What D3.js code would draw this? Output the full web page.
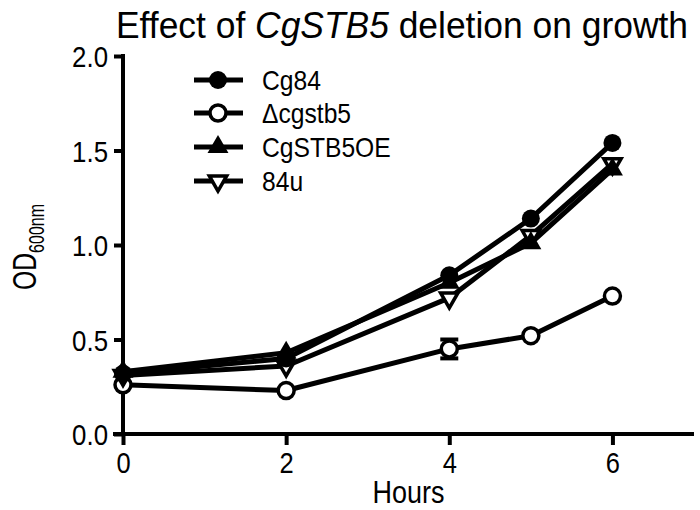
<!DOCTYPE html>
<html><head><meta charset="utf-8">
<script src="https://cdn.jsdelivr.net/npm/d3@7"></script>
<style>body{margin:0;background:#fff}svg{display:block}text{font-family:"Liberation Sans",Arial,sans-serif;fill:#000}</style>
</head><body><svg id="c" width="700" height="510"></svg>
<script>
const hours = [0, 2, 4, 5, 6];
const cg84 = [0.32, 0.40, 0.84, 1.14, 1.54];
const dcgstb5 = [0.26, 0.23, 0.45, 0.52, 0.73];
const dcgstb5Err = [0, 0, 0.05, 0, 0];
const cgstb5oe = [0.33, 0.43, 0.80, 1.01, 1.40];
const u84 = [0.31, 0.36, 0.72, 1.05, 1.43];
const seriesNames = ["Cg84", "\u0394cgstb5", "CgSTB5OE", "84u"];
const xTicks = [0, 2, 4, 6];
const yTicks = [0.0, 0.5, 1.0, 1.5, 2.0];

const svg = d3.select("#c");
const x = d3.scaleLinear().domain([0, 7]).range([123, 694]);
const y = d3.scaleLinear().domain([0, 2]).range([434, 56]);

function squeeze(sel, f) {
  sel.each(function () {
    const w = this.getComputedTextLength();
    d3.select(this).attr("textLength", w * f).attr("lengthAdjust", "spacingAndGlyphs");
  });
}

// title
const title = svg.append("text").attr("x", 402).attr("y", 38).attr("text-anchor", "middle")
  .attr("font-size", 36);
title.append("tspan").text("Effect of ");
title.append("tspan").attr("font-style", "italic").text("CgSTB5");
title.append("tspan").text(" deletion on growth");
title.attr("textLength", 572).attr("lengthAdjust", "spacingAndGlyphs");

// axes
const yAxis = d3.axisLeft(y).tickValues(yTicks).tickFormat(d3.format(".1f")).tickSize(9).tickPadding(6);
const gy = svg.append("g").attr("transform", "translate(123,0)").call(yAxis);
gy.select(".domain").attr("stroke-width", 4).attr("d", "M0," + (y(2) - 2) + "V" + (y(0) + 2));
gy.selectAll(".tick line").attr("stroke-width", 4);
gy.selectAll(".tick text").attr("font-size", 30).attr("font-family", "Liberation Sans, Arial, sans-serif").attr("dy", "0.35em");
squeeze(gy.selectAll(".tick text"), 0.86);

const xAxis = d3.axisBottom(x).tickValues(xTicks).tickFormat(d3.format("d")).tickSize(11).tickPadding(7);
const gx = svg.append("g").attr("transform", "translate(0,434)").call(xAxis);
gx.select(".domain").attr("stroke-width", 4).attr("d", "M" + (x(0) - 10) + ",0H" + x(7));
gx.selectAll(".tick line").attr("stroke-width", 4);
gx.selectAll(".tick text").attr("font-size", 30).attr("font-family", "Liberation Sans, Arial, sans-serif");
squeeze(gx.selectAll(".tick text"), 0.85);

const xl = svg.append("text").attr("x", x(3.5)).attr("y", 503).attr("text-anchor", "middle").attr("font-size", 31).text("Hours");
squeeze(xl, 0.87);
const yl = svg.append("text").attr("transform", "translate(36," + 247 + ") rotate(-90)").attr("text-anchor", "middle").attr("font-size", 34);
yl.append("tspan").text("OD");
yl.append("tspan").attr("font-size", 22).attr("dy", 8).text("600nm");
yl.attr("textLength", 86).attr("lengthAdjust", "spacingAndGlyphs");

// symbols
function marker(g, type, cx, cy) {
  if (type === 0) g.append("circle").attr("cx", cx).attr("cy", cy).attr("r", 9).attr("fill", "#000");
  else if (type === 1) g.append("circle").attr("cx", cx).attr("cy", cy).attr("r", 8).attr("fill", "#fff").attr("stroke", "#000").attr("stroke-width", 3.5);
  else if (type === 2) g.append("path").attr("d", d3.symbol(d3.symbolTriangle, 190)()).attr("transform", `translate(${cx},${cy})`).attr("fill", "#000");
  else g.append("path").attr("d", d3.symbol(d3.symbolTriangle, 130)()).attr("transform", `translate(${cx},${cy}) rotate(180)`).attr("fill", "#fff").attr("stroke", "#000").attr("stroke-width", 3.5);
}

const series = [cg84, dcgstb5, cgstb5oe, u84];
const line = d3.line().x((d, i) => x(hours[i])).y(d => y(d));
const order = [1, 3, 2, 0];
order.forEach(k => {
  svg.append("path").datum(series[k]).attr("d", line).attr("fill", "none").attr("stroke", "#000").attr("stroke-width", 5).attr("stroke-linejoin", "round");
});
// error bars
const eg = svg.append("g");
dcgstb5.forEach((v, i) => {
  const e = dcgstb5Err[i];
  if (e > 0) {
    const cx = x(hours[i]);
    eg.append("line").attr("x1", cx).attr("x2", cx).attr("y1", y(v - e)).attr("y2", y(v + e)).attr("stroke", "#000").attr("stroke-width", 4);
    [v - e, v + e].forEach(b => eg.append("line").attr("x1", cx - 9).attr("x2", cx + 9).attr("y1", y(b)).attr("y2", y(b)).attr("stroke", "#000").attr("stroke-width", 4));
  }
});
const mg = svg.append("g");
order.forEach(k => series[k].forEach((v, i) => marker(mg, k, x(hours[i]), y(v))));

// legend
const legY = [80, 113, 147, 181];
const lg = svg.append("g");
seriesNames.forEach((n, k) => {
  lg.append("line").attr("x1", 194).attr("x2", 243).attr("y1", legY[k]).attr("y2", legY[k]).attr("stroke", "#000").attr("stroke-width", 5);
  marker(lg, k, 218, legY[k]);
  const t = lg.append("text").attr("x", 262).attr("y", legY[k] + 10).attr("font-size", 28).text(n);
  squeeze(t, 0.88);
});
</script></body></html>
